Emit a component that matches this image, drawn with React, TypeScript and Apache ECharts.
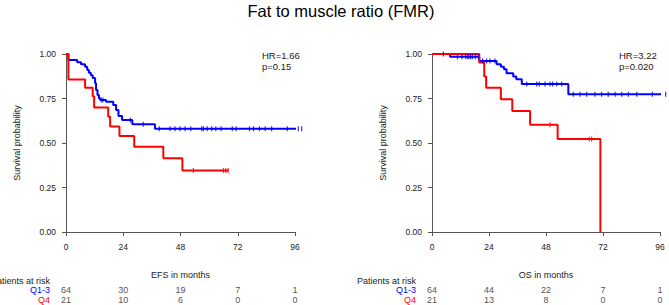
import React, { useEffect, useRef } from "react";
import * as echarts from "echarts";

// ---- Data ----
const xTicks = [0, 24, 48, 72, 96];
const groups = ["Q1-3", "Q4"];

// EFS curves [month, survival]
const efsQ13: number[][] = [
  [0, 1], [1, 0.966], [4.7, 0.953], [6.3, 0.942], [8, 0.929], [8.9, 0.91], [9.6, 0.895],
  [10.4, 0.88], [11.2, 0.865], [12.2, 0.835], [12.6, 0.798], [13.2, 0.77], [13.8, 0.751],
  [14.3, 0.742], [16.8, 0.732], [19.8, 0.713], [21, 0.685], [22, 0.652], [23.5, 0.629],
  [27.8, 0.605], [37.3, 0.58], [98.8, 0.58],
];
const efsQ13Censor = [14.8, 15.5, 27, 32.4, 39.1, 43.6, 45.7, 47.8, 49.9, 52.3, 56.9, 57.6, 59.2,
  61.1, 62.8, 65, 69.7, 71.3, 76.9, 78.6, 81.1, 83.5, 86.2, 92.8, 97.4, 98.8];
const efsQ4: number[][] = [
  [0, 1], [1, 0.857], [8, 0.81], [11.2, 0.762], [11.8, 0.70], [17.7, 0.648], [18.5, 0.592],
  [22.4, 0.539], [28.6, 0.479], [40.8, 0.414], [48.8, 0.345], [68, 0.345],
];
const efsQ4Censor = [53.4, 66, 67, 68];

// OS curves
const osQ13: number[][] = [
  [0, 1], [7.6, 0.984], [19.9, 0.961], [27.2, 0.942], [29, 0.928], [30.3, 0.914], [31.4, 0.892],
  [34.2, 0.873], [35.5, 0.858], [37.8, 0.832], [57.4, 0.774], [99.7, 0.774],
];
const osQ13Censor = [4.8, 10.7, 12.6, 14.2, 15, 15.6, 16.3, 17, 18.2, 19.5, 21.3, 23, 24.4, 26.5,
  39.9, 44.1, 45.2, 47.6, 49.7, 50.8, 52.5, 54.6, 59.5, 62.3, 65.1, 68.6, 71.4, 74.2, 77.1, 79.9,
  82.7, 86.2, 92.8, 98.4];
const osQ4: number[][] = [
  [0, 1], [19.9, 0.952], [22.0, 0.873], [22.8, 0.81], [29, 0.746], [33.8, 0.68], [41.3, 0.602],
  [52.9, 0.522], [70.9, 0],
];
const osQ4Censor = [49.7, 66.2, 67.2];

// Numbers at risk
const efsRiskQ13 = [64, 30, 19, 7, 1];
const efsRiskQ4 = [21, 10, 6, 0, 0];
const osRiskQ13 = [64, 44, 22, 7, 1];
const osRiskQ4 = [21, 13, 8, 0, 0];

const titleText = "Fat to muscle ratio (FMR)";
const efsStats = ["HR=1.66", "p=0.15"];
const osStats = ["HR=3.22", "p=0.020"];

// ---- Styling ----
const BLUE = "#0000ff";
const RED = "#ff0000";
const FONT = "Liberation Sans, Arial, Helvetica, sans-serif";
const AXIS = "#555";
const TEXT = "#1a1a1a";

function survAt(curve: number[][], t: number) {
  let s = 1;
  for (const p of curve) if (p[0] <= t) s = p[1];
  return s;
}

export default function App() {
  const ref = useRef<HTMLDivElement>(null);
  useEffect(() => {
    if (!ref.current) return;
    const chart = echarts.init(ref.current, null, { renderer: "svg" });

    const panels = [
      { left: 66, width: 229, name: "EFS in months", q13: efsQ13, q13c: efsQ13Censor, q4: efsQ4, q4c: efsQ4Censor, r13: efsRiskQ13, r4: efsRiskQ4, stats: efsStats, statsX: 262 },
      { left: 432, width: 228, name: "OS in months", q13: osQ13, q13c: osQ13Censor, q4: osQ4, q4c: osQ4Censor, r13: osRiskQ13, r4: osRiskQ4, stats: osStats, statsX: 619 },
    ];

    const grid: any[] = [];
    const xAxis: any[] = [];
    const yAxis: any[] = [];
    const series: any[] = [];
    const graphic: any[] = [];

    graphic.push({
      type: "text", x: 341, y: 11,
      style: { text: titleText, font: `16.5px ${FONT}`, fill: "#000", textAlign: "center", textVerticalAlign: "middle" },
    });

    panels.forEach((p, i) => {
      const gi = i * 2;
      grid.push({ left: p.left, top: 54, width: p.width, height: 178 });
      grid.push({ left: p.left, top: 285.5, width: p.width, height: 19.5 });
      xAxis.push({
        type: "value", gridIndex: gi, min: 0, max: 96, interval: 24,
        axisLine: { show: true, lineStyle: { color: AXIS, width: 1 } },
        axisTick: { show: true, length: 4, lineStyle: { color: AXIS } },
        axisLabel: { margin: 10, fontSize: 8.5, color: TEXT, fontFamily: FONT },
        splitLine: { show: false },
      });
      yAxis.push({
        type: "value", gridIndex: gi, min: 0, max: 1, interval: 0.25,
        name: "Survival probability", nameLocation: "middle", nameGap: 45,
        nameTextStyle: { fontSize: 9, color: TEXT, fontFamily: FONT },
        axisLine: { show: true, lineStyle: { color: AXIS, width: 1 } },
        axisTick: { show: true, length: 4, lineStyle: { color: AXIS } },
        axisLabel: { margin: 10, fontSize: 8.5, color: TEXT, fontFamily: FONT, formatter: (v: number) => v.toFixed(2) },
        splitLine: { show: false },
      });
      // risk table axes
      xAxis.push({
        type: "value", gridIndex: gi + 1, min: 0, max: 96, interval: 24, show: false,
      });
      yAxis.push({
        type: "category", gridIndex: gi + 1, data: groups, inverse: true,
        axisLine: { show: false }, axisTick: { show: false }, splitLine: { show: false },
        axisLabel: {
          interval: 0, hideOverlap: false,
          margin: 16, fontSize: 9, fontFamily: FONT,
          formatter: (v: string) => (v === "Q4" ? `{r|${v}}` : `{b|${v}}`),
          rich: { r: { color: RED, fontSize: 9, fontFamily: FONT }, b: { color: BLUE, fontSize: 9, fontFamily: FONT } },
        },
      });

      const line = (data: number[][], color: string) => ({
        type: "line", xAxisIndex: gi, yAxisIndex: gi, data, step: "end", symbol: "none",
        clip: false, lineStyle: { color, width: 2 }, z: color === RED ? 3 : 2,
      });
      const cens = (times: number[], curve: number[][], color: string) => ({
        type: "scatter", xAxisIndex: gi, yAxisIndex: gi, clip: false,
        data: times.map((t) => [t, survAt(curve, t)]),
        symbol: "rect", symbolSize: [1.2, 5], itemStyle: { color }, z: color === RED ? 4 : 3,
      });
      series.push(line(p.q13, BLUE), cens(p.q13c, p.q13, BLUE), line(p.q4, RED), cens(p.q4c, p.q4, RED));

      const riskSeries = (vals: number[], g: string) => ({
        type: "scatter", xAxisIndex: gi + 1, yAxisIndex: gi + 1,
        data: vals.map((v, k) => [xTicks[k], g, v]),
        symbolSize: 1, itemStyle: { color: "rgba(0,0,0,0)" },
        label: { show: true, position: "inside", formatter: (q: any) => String(q.value[2]), fontSize: 9, color: TEXT, fontFamily: FONT },
      });
      series.push(riskSeries(p.r13, "Q1-3"), riskSeries(p.r4, "Q4"));

      graphic.push({
        type: "text", x: p.left + p.width / 2, y: 274.5,
        style: { text: p.name, font: `9px ${FONT}`, fill: TEXT, textAlign: "center", textVerticalAlign: "middle" },
      });
      graphic.push({
        type: "text", x: p.left - 16, y: 280.7,
        style: { text: "Patients at risk", font: `9px ${FONT}`, fill: TEXT, textAlign: "right", textVerticalAlign: "middle" },
      });
      p.stats.forEach((s, k) => {
        graphic.push({
          type: "text", x: p.statsX, y: 55.7 + k * 10.5,
          style: { text: s, font: `9.5px ${FONT}`, fill: TEXT, textAlign: "left", textVerticalAlign: "middle" },
        });
      });
    });

    chart.setOption({ animation: false, backgroundColor: "#fff", grid, xAxis, yAxis, series, graphic });
    return () => chart.dispose();
  }, []);
  return <div ref={ref} style={{ width: 669, height: 305, position: "fixed", left: 0, top: 0 }} />;
}
